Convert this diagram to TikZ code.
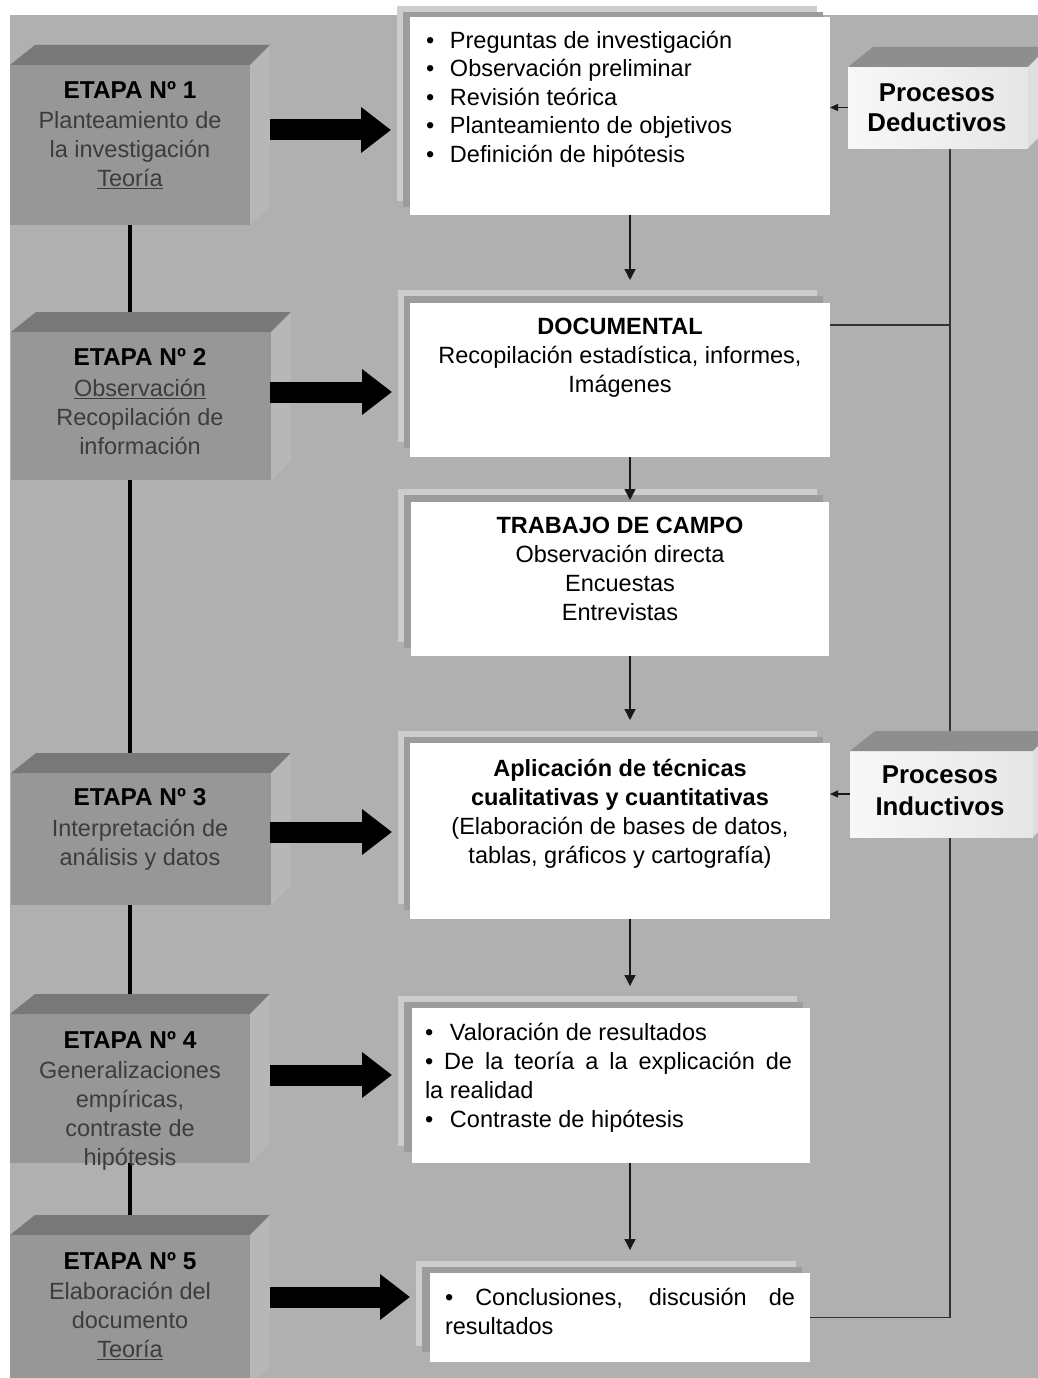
\documentclass[tikz,border=0pt]{standalone}
\usepackage{fontspec}
\setmainfont{Liberation Sans}
\usetikzlibrary{arrows.meta}

\definecolor{panelgray}{HTML}{B0B0B0}
\definecolor{stagefront}{HTML}{979797}
\definecolor{stagetop}{HTML}{787878}
\definecolor{stageside}{HTML}{B7B7B7}
\definecolor{stagetext}{HTML}{3C3C3C}
\definecolor{backlight}{HTML}{CDCDCD}
\definecolor{backdark}{HTML}{9C9C9C}
\definecolor{proctop}{HTML}{8E8E8E}
\definecolor{procside}{HTML}{DEDEDE}
\definecolor{procleft}{HTML}{F8F8F8}
\definecolor{procright}{HTML}{E6E6E6}

\pgfdeclarelayer{panel}
\pgfdeclarelayer{wires}
\pgfsetlayers{panel,wires,main}

% height of the first line of every text block
\newcommand\topstrut{\rule{0pt}{20pt}}
% stage heading, slightly larger than the body text
\newcommand\stagehead[1]{{\color{black}\fontsize{24.4}{29}\bfseries #1}}
% top and right faces of a box drawn in perspective
\newcommand\cubefaces[3]{%
  \fill[#2] (#1.north west) -- ++(25,-20) -- ([shift={(20,-20)}]#1.north east) -- (#1.north east) -- cycle;
  \fill[#3] (#1.north east) -- ([shift={(20,-20)}]#1.north east) -- ([shift={(20,-20)}]#1.south east) -- (#1.south east) -- cycle;}
% darker sheet of the stacked paper behind each note
\newcommand\stackback[1]{%
  \fill[backdark] ([shift={(6,6)}]#1.north west) rectangle ([shift={(6,6)}]#1.south east);}

\begin{document}
\begin{tikzpicture}[x=1pt, y=-1pt,
  txt/.style={font=\fontsize{23.5}{29}\selectfont, inner sep=0pt, outer sep=0pt},
  stagebox/.style={fill=stagefront, inner sep=0pt, outer sep=0pt},
  backbox/.style={fill=backlight, inner sep=0pt, outer sep=0pt},
  notebox/.style={fill=white, inner sep=0pt, outer sep=0pt},
  procbox/.style={left color=procleft, right color=procright, inner sep=0pt, outer sep=0pt},
  proctxt/.style={txt, align=center, font=\fontsize{25.8}{30}\bfseries},
  stagetxt/.style={txt, align=center, anchor=north, text=stagetext},
  notetxt/.style={txt, text=black},
  bigarrow/.style={line width=21pt, -{Triangle[length=30pt,width=44pt]}, shorten >=6pt},
  flow/.style={line width=1.4pt, draw=black!90, -{Triangle[length=11pt,width=11pt]}},
  feed/.style={line width=1.2pt, draw=black!90, -{Triangle[length=8pt,width=7pt]}},
  railline/.style={line width=1.5pt, draw=black!80},
  spine/.style={line width=4pt, draw=black}]

\useasboundingbox (0,0) rectangle (1038,1378);
\clip (0,0) rectangle (1038,1378);

\begin{pgfonlayer}{panel}
  \fill[panelgray] (10,15) rectangle (1038,1378);
\end{pgfonlayer}

% ---- stages -------------------------------------------------------
\node[stagebox, minimum width=240pt, minimum height=160pt] (e1) at (130,145) {};
\cubefaces{e1}{stagetop}{stageside}
\node[stagebox, minimum width=260pt, minimum height=148pt] (e2) at (141,406) {};
\cubefaces{e2}{stagetop}{stageside}
\node[stagebox, minimum width=260pt, minimum height=132pt] (e3) at (141,839) {};
\cubefaces{e3}{stagetop}{stageside}
\node[stagebox, minimum width=240pt, minimum height=149pt] (e4) at (130,1088.5) {};
\cubefaces{e4}{stagetop}{stageside}
\node[stagebox, minimum width=240pt, minimum height=150pt] (e5) at (130,1310) {};
\cubefaces{e5}{stagetop}{stageside}

\node[stagetxt] (t1) at (130,78.4) {\topstrut\stagehead{ETAPA Nº 1}\\[1pt]
  Planteamiento de\\ la investigación\\ \underline{Teoría}};
\node[stagetxt] (t2) at (140,345.4) {\topstrut\stagehead{ETAPA Nº 2}\\[2pt]
  \underline{Observación}\\ Recopilación de\\ información};
\node[stagetxt] (t3) at (140,785.4) {\topstrut\stagehead{ETAPA Nº 3}\\[2pt]
  Interpretación de\\ análisis y datos};
\node[stagetxt] (t4) at (130,1028.4) {\topstrut\stagehead{ETAPA Nº 4}\\[1pt]
  Generalizaciones\\ empíricas,\\ contraste de\\ hipótesis};
\node[stagetxt] (t5) at (130,1249.4) {\topstrut\stagehead{ETAPA Nº 5}\\[1pt]
  Elaboración del\\ documento\\ \underline{Teoría}};

% ---- notes (stacked sheets) ----------------------------------------
\node[backbox, minimum width=420pt, minimum height=195pt] (k1) at (607,103.5) {};
\stackback{k1}
\node[notebox, minimum width=420pt, minimum height=198pt] (b1) at (620,116) {};
\node[backbox, minimum width=419pt, minimum height=152pt] (k2) at (607.5,366) {};
\stackback{k2}
\node[notebox, minimum width=420pt, minimum height=154pt] (b2) at (620,380) {};
\node[backbox, minimum width=419pt, minimum height=153pt] (k3) at (607.5,565.5) {};
\stackback{k3}
\node[notebox, minimum width=418pt, minimum height=154pt] (b3) at (620,579) {};
\node[backbox, minimum width=419pt, minimum height=173pt] (k4) at (607.5,817.5) {};
\stackback{k4}
\node[notebox, minimum width=420pt, minimum height=176pt] (b4) at (620,831) {};
\node[backbox, minimum width=399pt, minimum height=150pt] (k5) at (597.5,1071) {};
\stackback{k5}
\node[notebox, minimum width=398pt, minimum height=155pt] (b5) at (611,1085.5) {};
\node[backbox, minimum width=380pt, minimum height=85pt] (k6) at (606,1303.5) {};
\stackback{k6}
\node[notebox, minimum width=380pt, minimum height=89pt] (b6) at (620,1317.5) {};

\node[notetxt, font=\fontsize{23.5}{28.5}\selectfont, align=left, anchor=north west] (n1) at (426,28.4) {%
  \topstrut\makebox[24pt][l]{\textbullet}Preguntas de investigación\\
  \makebox[24pt][l]{\textbullet}Observación preliminar\\
  \makebox[24pt][l]{\textbullet}Revisión teórica\\
  \makebox[24pt][l]{\textbullet}Planteamiento de objetivos\\
  \makebox[24pt][l]{\textbullet}Definición de hipótesis};
\node[notetxt, align=center, anchor=north] (n2) at (620,314.4) {%
  \topstrut\textbf{DOCUMENTAL}\\ Recopilación estadística, informes,\\ Imágenes};
\node[notetxt, align=center, anchor=north] (n3) at (620,513.4) {%
  \topstrut\textbf{TRABAJO DE CAMPO}\\ Observación directa\\ Encuestas\\ Entrevistas};
\node[notetxt, align=center, anchor=north] (n4) at (620,756.4) {%
  \topstrut\textbf{Aplicación de técnicas}\\ \textbf{cualitativas y cuantitativas}\\
  (Elaboración de bases de datos,\\ tablas, gráficos y cartografía)};
\node[notetxt, align=left, anchor=north west] (n5) at (425,1020.4) {%
  \topstrut\makebox[25pt][l]{\textbullet}Valoración de resultados\\
  \makebox[367pt][s]{\textbullet\ De la teoría a la explicación de}\\
  la realidad\\
  \makebox[25pt][l]{\textbullet}Contraste de hipótesis};
\node[notetxt, align=left, anchor=north west] (n6) at (445,1285.4) {%
  \topstrut\makebox[350pt][s]{\textbullet\ Conclusiones, discusión de}\\ resultados};

% ---- deductive / inductive process boxes ---------------------------
\node[procbox, minimum width=180pt, minimum height=81pt] (pd) at (938,107.5) {};
\cubefaces{pd}{proctop}{procside}
\node[proctxt] (pdt) at (937,107.5) {Procesos\\ Deductivos};
\node[procbox, minimum width=183pt, minimum height=86pt] (pi) at (941.5,794) {};
\cubefaces{pi}{proctop}{procside}
\node[proctxt] (pit) at (940,791) {Procesos\\[2pt] Inductivos};

% ---- connectors -----------------------------------------------------
\coordinate (rail) at (950,0);
\coordinate (col) at (630,0);
\path ([yshift=-22pt]b2.north east) coordinate (h2);

\begin{pgfonlayer}{wires}
  \draw[spine] (e1.south) -- (e2.north -| e1.south);
  \draw[spine] (e2.south -| e1.south) -- (e3.north -| e1.south);
  \draw[spine] (e3.south -| e1.south) -- (e4.north);
  \draw[spine] (e4.south) -- (e5.north);
  \draw[railline] (pd.south -| rail) -- (pi.north -| rail);
  \draw[railline] (h2) -- (h2 -| rail);
  \draw[railline] (pi.south -| rail) |- (b6.east);
\end{pgfonlayer}

\coordinate (s1) at (270,130);
\coordinate (s2) at (270,392);
\coordinate (s3) at (270,832);
\coordinate (s4) at (270,1075);
\coordinate (s5) at (270,1297);
\draw[bigarrow] (s1) -- (s1 -| k1.west);
\draw[bigarrow] (s2) -- (s2 -| k2.west);
\draw[bigarrow] (s3) -- (s3 -| k3.west);
\draw[bigarrow] (s4) -- (s4 -| k5.west);
\draw[bigarrow] (s5) -- (s5 -| k6.west);

\draw[flow, shorten >=10pt] (b1.south -| col) -- (k2.north -| col);
\draw[flow, shorten >=2pt] (b2.south -| col) -- (b3.north -| col);
\draw[flow, shorten >=11pt] (b3.south -| col) -- (k4.north -| col);
\draw[flow, shorten >=10pt] (b4.south -| col) -- (k5.north -| col);
\draw[flow, shorten >=11pt] (b5.south -| col) -- (k6.north -| col);

\draw[feed] (pd.west) -- (pd.west -| b1.east);
\draw[feed] (pi.west) -- (pi.west -| b4.east);
\end{tikzpicture}
\end{document}
